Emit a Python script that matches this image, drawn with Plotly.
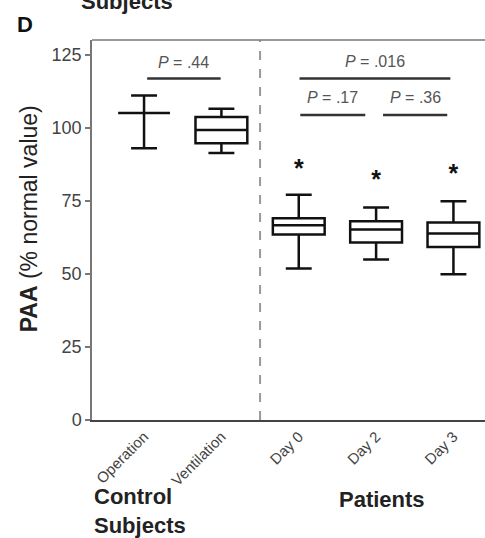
import plotly.graph_objects as go

# ---- data ----
categories = ["Operation", "Ventilation", "Day 0", "Day 2", "Day 3"]
x_pos = [0, 1, 2, 3, 4]
q1 = [105, 94.7, 63.5, 60.7, 59.2]
median = [105, 99.2, 66.6, 65.2, 63.8]
q3 = [105, 103.7, 69.0, 68.0, 67.6]
lower = [93, 91.3, 51.8, 54.9, 49.9]
upper = [111, 106.5, 77.1, 72.7, 74.8]
star_x = [2, 3, 4]
star_y = [85.4, 81.4, 83.4]
y_ticks = [0, 25, 50, 75, 100, 125]

# significance comparisons: (start, end, line level, label)
comp_start = [0.04, 2.01, 2.02, 3.09]
comp_end = [0.99, 3.96, 2.86, 3.92]
comp_level = [116.8, 116.8, 104.3, 104.3]
comp_text_level = [122.3, 122.5, 110.2, 110.2]
comp_labels = ["<i>P</i> = .44", "<i>P</i> = .016", "<i>P</i> = .17", "<i>P</i> = .36"]

FONT = "Arial, Liberation Sans, Helvetica, sans-serif"

fig = go.Figure()
for i, c in enumerate(categories):
    fig.add_trace(go.Box(
        x=[x_pos[i]], q1=[q1[i]], median=[median[i]], q3=[q3[i]],
        lowerfence=[lower[i]], upperfence=[upper[i]],
        width=0.67, whiskerwidth=0.5,
        line=dict(color="#111111", width=2.5),
        fillcolor="white", boxpoints=False, name=c, showlegend=False,
    ))

fig.add_trace(go.Scatter(
    x=star_x, y=star_y, mode="text", text=["<b>*</b>"] * len(star_x),
    textfont=dict(family=FONT, size=25, color="#111111"),
    textposition="middle center", showlegend=False, hoverinfo="skip",
))

shapes = []
annotations = []
for s, e, lv, tl, lab in zip(comp_start, comp_end, comp_level, comp_text_level, comp_labels):
    shapes.append(dict(type="line", xref="x", yref="y", x0=s, x1=e, y0=lv, y1=lv,
                       line=dict(color="#333333", width=2.5)))
    annotations.append(dict(xref="x", yref="y", x=(s + e) / 2, y=tl, text=lab,
                            showarrow=False, font=dict(family=FONT, size=16, color="#555555"),
                            xanchor="center", yanchor="middle"))

# dashed divider between groups
shapes.append(dict(type="line", xref="x", yref="paper", x0=1.5, x1=1.5, y0=0, y1=1,
                   line=dict(color="#999999", width=2, dash="dash")))
# top frame line
shapes.append(dict(type="line", xref="paper", yref="paper", x0=0, x1=1, y0=1, y1=1,
                   line=dict(color="#777777", width=1.5)))

annotations += [
    dict(xref="paper", yref="paper", x=-0.161, y=0.53, textangle=-90,
         text="<b>PAA</b> (% normal value)", showarrow=False,
         font=dict(family=FONT, size=23, color="#222222"), xanchor="center", yanchor="middle"),
    dict(xref="paper", yref="paper", x=0.0, y=-0.24, text="<b>Control<br>Subjects</b>",
         showarrow=False, align="left", font=dict(family=FONT, size=22, color="#222222"),
         xanchor="left", yanchor="middle"),
    dict(xref="paper", yref="paper", x=0.738, y=-0.208, text="<b>Patients</b>",
         showarrow=False, font=dict(family=FONT, size=22, color="#222222"),
         xanchor="center", yanchor="middle"),
    dict(xref="paper", yref="paper", x=-0.195, y=1.041, text="<b>D</b>",
         showarrow=False, font=dict(family=FONT, size=22, color="#111111"),
         xanchor="left", yanchor="middle"),
    dict(xref="paper", yref="paper", x=0.088, y=1.100, text="<b>Subjects</b>",
         showarrow=False, font=dict(family=FONT, size=22, color="#222222"),
         xanchor="center", yanchor="middle"),
]

fig.update_layout(
    width=485, height=538,
    margin=dict(l=92, r=0, t=40, b=118),
    plot_bgcolor="white", paper_bgcolor="white",
    shapes=shapes, annotations=annotations,
    xaxis=dict(range=[-0.673, 4.408], tickvals=x_pos, ticktext=categories,
               tickangle=-45, showgrid=False, zeroline=False, showline=True,
               linecolor="#444444", linewidth=2, ticks="",
               tickfont=dict(family=FONT, size=15, color="#444444")),
    yaxis=dict(range=[0, 130], tickvals=y_ticks, showgrid=False, zeroline=False,
               showline=True, linecolor="#777777", linewidth=1.5,
               ticks="outside", ticklen=5, tickwidth=1.5, tickcolor="#777777",
               tickfont=dict(family=FONT, size=18, color="#444444")),
)

fig.write_html("out.html")
